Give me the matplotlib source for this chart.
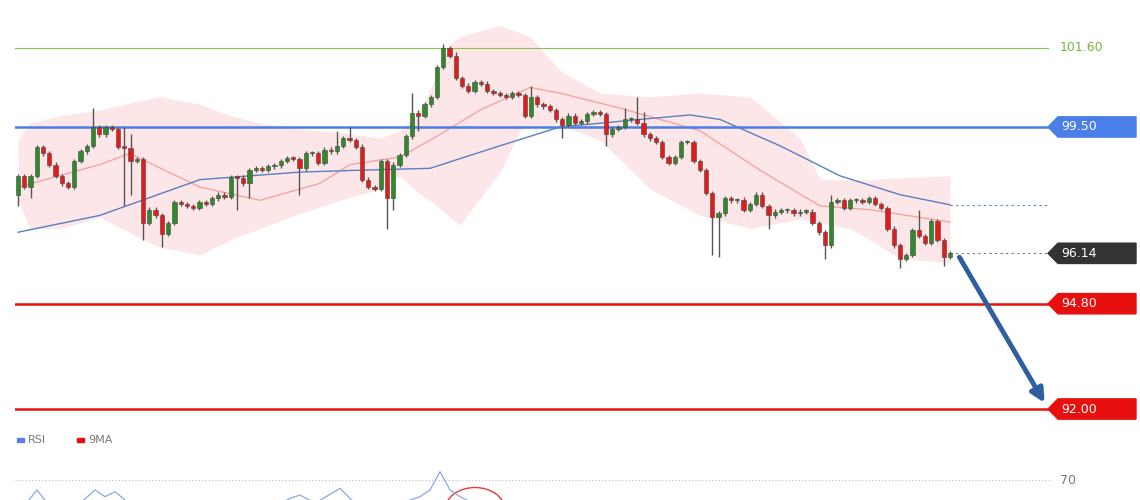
import numpy as np
import matplotlib
matplotlib.use("Agg")
import matplotlib.pyplot as plt
from matplotlib.patches import Ellipse

# closes, left to right
closes = [98.2, 97.9, 98.2, 98.97, 98.8, 98.5, 98.2, 98.0, 97.9, 98.6,
          98.85, 99.0, 99.5, 99.3, 99.5, 99.45, 98.98, 98.95, 98.6, 98.65,
          96.95, 97.3, 97.15, 96.65, 96.95, 97.5, 97.45, 97.4, 97.35, 97.5,
          97.45, 97.6, 97.7, 97.65, 98.17, 98.15, 98.0, 98.35, 98.4,
          98.35, 98.45, 98.48, 98.6, 98.67, 98.65, 98.4, 98.8, 98.8, 98.55,
          98.9, 98.85, 99.0, 99.2, 99.15, 98.98, 98.1, 97.9, 97.85, 98.6,
          97.6, 98.5, 98.75, 99.25, 99.88, 99.8, 100.1, 100.3, 101.1, 101.6,
          101.4, 100.8, 100.6, 100.45, 100.7, 100.65, 100.45, 100.4, 100.35, 100.3,
          100.4, 100.35, 99.8, 100.3, 100.1, 100.05, 99.95, 99.7, 99.55, 99.8,
          99.6, 99.65, 99.85, 99.9, 99.85, 99.3, 99.45, 99.5, 99.7, 99.7,
          99.6, 99.3, 99.2, 99.1, 98.7, 98.55, 98.7, 99.1, 99.1, 98.6,
          98.35, 97.75, 97.1, 97.2, 97.6, 97.55, 97.55, 97.3, 97.45, 97.7,
          97.4, 97.15, 97.25, 97.28, 97.28, 97.2, 97.25, 97.25, 96.95, 96.7,
          96.35, 97.5, 97.55, 97.35, 97.55, 97.55, 97.5, 97.6, 97.45, 97.35,
          96.8, 96.35, 96.0, 96.1, 96.75, 96.6, 96.42, 97.0, 96.5, 96.05, 96.14]
first_open = 97.7
# long wicks: (pixel x in reference, price)
long_highs = [(93, 100.0), (125, 99.5), (131, 99.3), (337, 99.4), (350, 99.5), (412, 100.4),
              (444, 101.7), (456, 101.5), (531, 100.6), (625, 100.0), (637, 100.3), (643, 99.9),
              (744, 97.65), (831, 97.7), (919, 97.3)]
long_lows = [(18, 97.4), (31, 97.6), (125, 97.4), (131, 97.7), (143, 96.5), (162, 96.3),
             (236, 97.3), (249, 97.6), (300, 97.7), (387, 96.8), (393, 97.3), (418, 99.4),
             (562, 99.2), (606, 99.0), (712, 96.1), (718, 96.05), (769, 96.8), (825, 96.0),
             (900, 95.75), (943, 95.8)]

ma20 = [(18, 97.9), (100, 98.5), (130, 98.8), (145, 98.6), (200, 97.9), (260, 97.55), (320, 98.0),
        (350, 98.5), (400, 98.7), (440, 99.3), (480, 99.95), (530, 100.55), (560, 100.4),
        (620, 100.0), (700, 99.4), (760, 98.35), (820, 97.4), (870, 97.3), (950, 96.97)]
ma50 = [(18, 96.7), (100, 97.15), (200, 98.1), (300, 98.3), (360, 98.35), (430, 98.4), (500, 99.0),
        (560, 99.5), (640, 99.7), (690, 99.82), (720, 99.7), (780, 99.0), (840, 98.2),
        (900, 97.7), (950, 97.43)]
band_x = [18, 30, 60, 100, 140, 160, 200, 230, 260, 300, 340, 380, 400, 420, 430, 450, 460,
          500, 520, 530, 560, 600, 650, 700, 750, 800, 820, 850, 870, 900, 950]
band_up = [99.15, 99.6, 99.8, 99.95, 100.2, 100.3, 100.1, 99.8, 99.6, 99.45, 99.35, 99.2, 99.4,
           99.95, 100.5, 101.7, 101.9, 102.2, 102.0, 101.9, 101.0, 100.4, 100.3, 100.4, 100.3,
           99.2, 98.1, 98.1, 98.1, 98.15, 98.2]
band_lo = [97.56, 96.8, 96.8, 97.1, 96.55, 96.3, 96.1, 96.5, 96.8, 97.2, 97.55, 97.85, 98.2,
           97.7, 97.55, 97.1, 96.9, 98.3, 99.4, 99.5, 99.55, 99.15, 97.85, 97.15, 96.8, 97.05,
           96.95, 96.8, 96.5, 96.0, 95.9]
rsi_pts = [(18, 60), (37, 67), (50, 62), (80, 63), (95, 67), (105, 65), (115, 66.5), (125, 64),
           (150, 55), (200, 50), (250, 58), (290, 64.5), (300, 65.5), (315, 63), (340, 67.5),
           (355, 63), (380, 52), (410, 64), (420, 65), (430, 67), (440, 72.5), (450, 67),
           (460, 65), (470, 63.5), (480, 60), (520, 55), (600, 50), (700, 40), (800, 42),
           (900, 38), (950, 40)]

levels = [(101.60, "#8cc152"), (99.50, "#4a7ee8"), (94.80, "#e8100f"), (92.00, "#e8100f")]
last_price = 96.14

n = len(closes)
step = (950 - 18) / (n - 1)
def px(x):
    return (x - 18) / step

opens = [first_open] + closes[:-1]
highs = [max(o, c) + 0.06 for o, c in zip(opens, closes)]
lows = [min(o, c) - 0.06 for o, c in zip(opens, closes)]
for x, v in long_highs:
    i = int(round(px(x)))
    highs[i] = max(highs[i], v)
for x, v in long_lows:
    i = int(round(px(x)))
    lows[i] = min(lows[i], v)

fig = plt.figure(figsize=(11.4, 5), dpi=100)
fig.patch.set_facecolor("white")
ax = fig.add_axes([15 / 1140, 75 / 500, 1125 / 1140, 425 / 500])
rax = fig.add_axes([15 / 1140, 0, 1125 / 1140, 70 / 500])
xl = (-3 / step, (1140 - 18) / step)
ax.set_xlim(*xl)
ax.set_ylim(91.575, 102.876)
xend = px(1048)

# bollinger band + averages
bx = [px(x) for x in band_x]
ax.fill_between(bx, band_lo, band_up, color="#fde6e8", lw=0, zorder=1)
ax.plot([px(x) for x, _ in ma20], [v for _, v in ma20], color="#f5a3a3", lw=1, zorder=2)
ax.plot([px(x) for x, _ in ma50], [v for _, v in ma50], color="#5a7fc0", lw=1, zorder=2)
ax.plot([px(950), xend], [ma50[-1][1]] * 2, color="#5a7fc0", lw=0.8, ls=(0, (2, 3)), zorder=2)

for i in range(n):
    o, c = opens[i], closes[i]
    col = "#2f8a2a" if c >= o else "#e41b1b"
    ax.vlines(i, lows[i], highs[i], color="#555555", lw=1, zorder=3)
    ax.bar(i, max(abs(c - o), 0.04), bottom=min(o, c), width=0.68, color=col,
           edgecolor="#444444", lw=0.4, zorder=4)

for v, col in levels:
    lw = 0.8 if v == 101.60 else 1.8
    ax.plot([xl[0], xend], [v, v], color=col, lw=lw, zorder=2)
ax.plot([n - 1, xend], [last_price] * 2, color="#777777", lw=0.8, ls=(0, (2, 3)), zorder=2)

ax.text(px(1060), 101.60, "101.60", color="#7cb342", fontsize=9, va="center")
boxes = [(99.50, "#4a7ee8", "99.50"), (last_price, "#333333", f"{last_price:.2f}"),
         (94.80, "#e8100f", "94.80"), (92.00, "#e8100f", "92.00")]
for v, col, t in boxes:
    ax.fill([px(1048), px(1058), px(1136), px(1136), px(1058)],
            [v, v + 0.27, v + 0.27, v - 0.27, v - 0.27], color=col, zorder=5, clip_on=False)
    ax.text(px(1061), v, t, color="white", fontsize=9, va="center", zorder=6)

ax.annotate("", xy=(px(1046), 92.1), xytext=(px(958), 96.1),
            arrowprops=dict(arrowstyle="-|>,head_width=0.4,head_length=0.8",
                            color="#2f5f9e", lw=3.5), zorder=7)
ax.axis("off")

# RSI panel
rax.set_xlim(*xl)
rax.set_ylim(64, 85)
rax.plot([px(x) for x, _ in rsi_pts], [v for _, v in rsi_pts], color="#8ea6e8", lw=0.9)
rax.plot([xl[0], px(1050)], [70, 70], color="#bbbbbb", lw=0.8, ls=(0, (1, 2)))
rax.text(px(1060), 70, "70", color="#777777", fontsize=9, va="center")
rax.add_patch(Ellipse((px(475), 61), 60 / step, 13.5, fill=False, ec="#e8383a", lw=1))
rax.add_patch(plt.Rectangle((px(17), 81.55), 7 / step, 1.2, color="#5b82e0"))
rax.text(px(28), 82.1, "RSI", fontsize=8, color="#777777", va="center")
rax.add_patch(plt.Rectangle((px(77), 81.55), 7 / step, 1.2, color="#e8100f"))
rax.text(px(88), 82.1, "9MA", fontsize=8, color="#777777", va="center")
rax.axis("off")

fig.savefig("out.png", dpi=100, facecolor="white")
